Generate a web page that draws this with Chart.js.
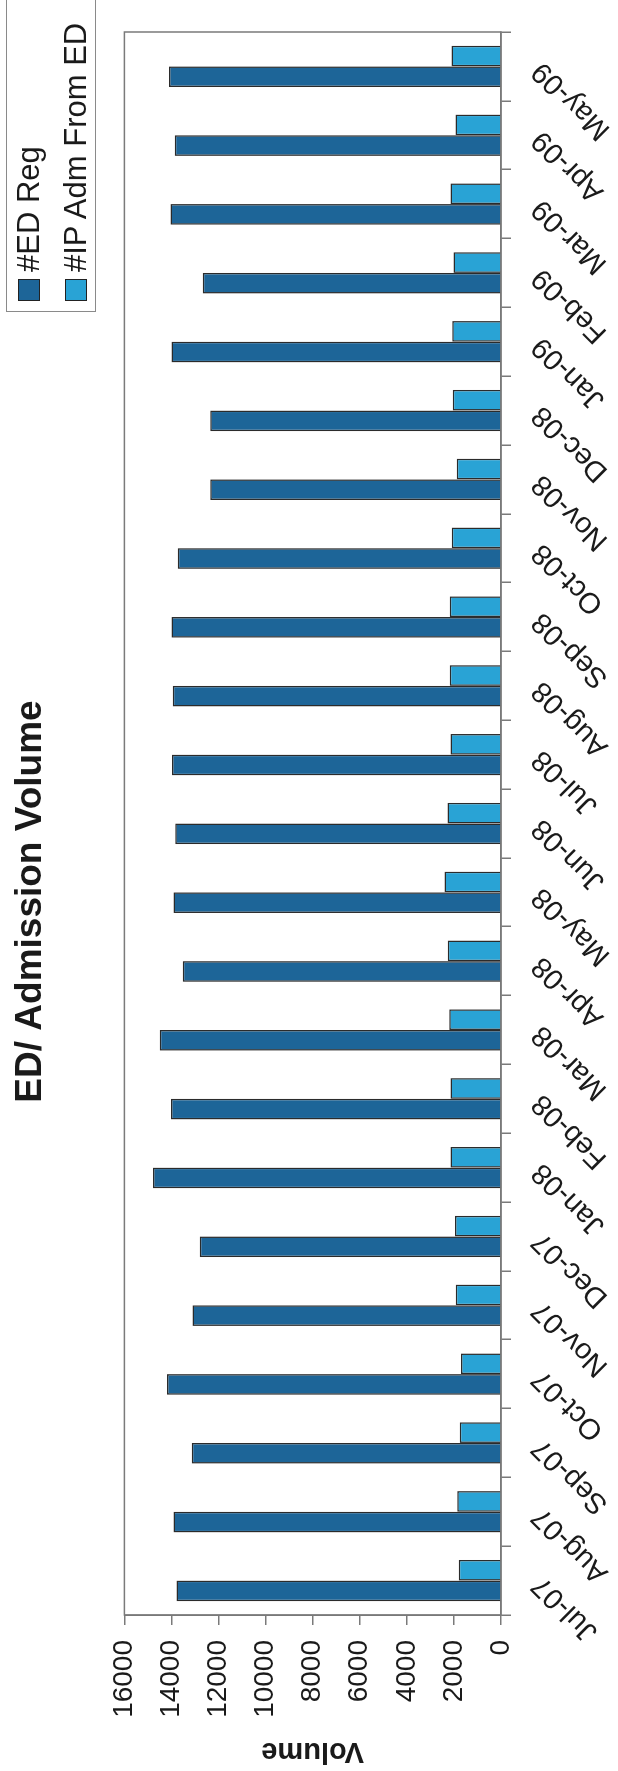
<!DOCTYPE html>
<html>
<head>
<meta charset="utf-8">
<script src="https://cdn.jsdelivr.net/npm/chart.js@4/dist/chart.umd.min.js"></script>
<style>
  html, body { margin: 0; padding: 0; background: #fff; }
  body { width: 618px; height: 1771px; overflow: hidden; position: relative; }
  /* the scanned chart lies on its side: draw it upright, then turn it a quarter left */
  #sheet {
    position: absolute; left: 0; top: 0;
    width: 1771px; height: 618px;
    transform-origin: 0 0;
    transform: translate(0, 1771px) rotate(-90deg);
    background: #fff;
  }
  #legend {
    position: absolute; left: 1459px; top: 6px;
    width: 330px; height: 88px;
    border: 1.5px solid #8a8a8a; background: #fff;
    font-family: Arial, "Liberation Sans", Helvetica, sans-serif;
    font-size: 31px; color: #1a1a1a;
  }
  #legend .row { position: absolute; left: 10px; height: 40px; display: flex; align-items: center; }
  #legend .sw { width: 20px; height: 20px; border: 1.5px solid #222; margin-right: 7px; }
</style>
</head>
<body>
<div id="sheet">
  <canvas id="chart" width="1771" height="618"></canvas>
  <div id="legend"></div>
</div>
<script>
// ===== Data =====
const MONTHS = ['Jul-07','Aug-07','Sep-07','Oct-07','Nov-07','Dec-07','Jan-08','Feb-08','Mar-08',
                'Apr-08','May-08','Jun-08','Jul-08','Aug-08','Sep-08','Oct-08','Nov-08','Dec-08',
                'Jan-09','Feb-09','Mar-09','Apr-09','May-09'];
const ED_REG = [13790, 13910, 13140, 14190, 13110, 12800, 14780, 14020, 14500,
                13520, 13910, 13840, 13980, 13950, 14000, 13730, 12350, 12350,
                14000, 12670, 14040, 13860, 14110];
const IP_ADM = [1800, 1860, 1750, 1700, 1920, 1950, 2150, 2150, 2200,
                2260, 2400, 2270, 2150, 2180, 2180, 2090, 1880, 2050,
                2070, 2020, 2150, 1930, 2100];
const Y_MAX  = 16000;
const Y_STEP = 2000;

const FONT = 'Arial, "Liberation Sans", Helvetica, sans-serif';
const INK  = '#1a1a1a';
const AXIS = '#7a7a7a';

Chart.defaults.font.family = FONT;
Chart.defaults.color = INK;

// ── Plugins ────────────────────────────────────────────────────────────────

// grey frame round the plot area
const plotFrame = {
  id: 'plotFrame',
  beforeDatasetsDraw(chart) {
    const { ctx, chartArea: a } = chart;
    ctx.save();
    ctx.strokeStyle = AXIS;
    ctx.lineWidth = 1.5;
    ctx.strokeRect(a.left, a.top, a.right - a.left, a.bottom - a.top);
    ctx.restore();
  },
};

// two-row boxed legend, built from the datasets
const htmlLegend = {
  id: 'htmlLegend',
  afterUpdate(chart) {
    const box = document.getElementById('legend');
    box.replaceChildren();
    chart.data.datasets.forEach((ds, i) => {
      const row = document.createElement('div');
      row.className = 'row';
      row.style.top = (2 + i * 47) + 'px';
      const sw = document.createElement('span');
      sw.className = 'sw';
      sw.style.background = ds.backgroundColor;
      row.appendChild(sw);
      row.appendChild(Object.assign(document.createElement('span'), { textContent: ds.label }));
      box.appendChild(row);
    });
  },
};

// ── Chart ──────────────────────────────────────────────────────────────────

new Chart(document.getElementById('chart'), {
  type: 'bar',
  data: {
    labels: MONTHS,
    datasets: [
      { label: '#ED Reg',         data: ED_REG, backgroundColor: '#1d6598', borderColor: '#2b2b2b', borderWidth: 1.5 },
      { label: '#IP Adm From ED', data: IP_ADM, backgroundColor: '#29a3d5', borderColor: '#2b2b2b', borderWidth: 1.5 },
    ],
  },
  options: {
    responsive: false,
    animation: false,
    devicePixelRatio: 1,
    datasets: { bar: { categoryPercentage: 0.6, barPercentage: 1.0 } },
    layout: { padding: { left: 0, right: 32, top: 0, bottom: 0 } },
    plugins: {
      legend: { display: false },
      tooltip: { enabled: false },
      title: {
        display: true,
        text: 'ED/ Admission Volume',
        color: INK,
        font: { size: 37, weight: 'bold' },
        padding: { top: 9, bottom: 71 },
      },
    },
    scales: {
      x: {
        grid: { drawOnChartArea: false, offset: true, tickLength: 10, color: AXIS, lineWidth: 1.5 },
        border: { color: AXIS, width: 1.5 },
        ticks: { autoSkip: false, minRotation: 45, maxRotation: 45, padding: 14, color: INK, font: { size: 29 } },
        afterFit(scale) { scale.height = 117; },
      },
      y: {
        min: 0,
        max: Y_MAX,
        grid: { drawOnChartArea: false, tickLength: 10, color: AXIS, lineWidth: 1.5 },
        border: { color: AXIS, width: 1.5 },
        ticks: { stepSize: Y_STEP, padding: 15, color: INK, font: { size: 28 }, callback: v => String(v) },
        title: { display: true, text: 'Volume', color: INK, font: { size: 29, weight: 'bold' }, padding: { top: 3, bottom: 0 } },
        afterFit(scale) { scale.width = 156; },
      },
    },
  },
  plugins: [plotFrame, htmlLegend],
});
</script>
</body>
</html>
